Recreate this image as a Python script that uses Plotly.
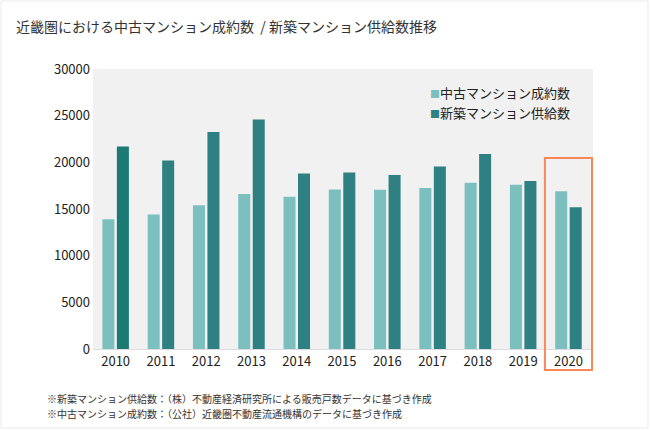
import plotly.graph_objects as go

years = ["2010", "2011", "2012", "2013", "2014", "2015", "2016", "2017", "2018", "2019", "2020"]
used_contracts = [13900, 14400, 15400, 16600, 16300, 17100, 17050, 17250, 17800, 17600, 16900]
new_supply = [21700, 20200, 23250, 24600, 18800, 18900, 18650, 19550, 20900, 18000, 15200]
y_ticks = [0, 5000, 10000, 15000, 20000, 25000, 30000]

name_used = "中古マンション成約数"
name_new = "新築マンション供給数"
title_text = "近畿圏における中古マンション成約数\u00a0\u00a0/ 新築マンション供給数推移"
notes = [
    "※新築マンション供給数：（株）不動産経済研究所による販売戸数データに基づき作成",
    "※中古マンション成約数：（公社）近畿圏不動産流通機構のデータに基づき作成",
]

c_light = "#7bc0bf"
c_dark = "#2f8083"
c_dark_first = "#1b7a73"
dark_colors = [c_dark_first] + [c_dark] * (len(years) - 1)

FONT = "Noto Sans CJK JP"

fig = go.Figure()
fig.add_trace(go.Bar(x=years, y=used_contracts, name=name_used, marker_color=c_light,
                     marker_line_width=0))
fig.add_trace(go.Bar(x=years, y=new_supply, name=name_new, marker_color=dark_colors,
                     marker_line_width=0))

fig.update_layout(
    width=650, height=430,
    margin=dict(l=93, r=57, t=69, b=81),
    paper_bgcolor="white", plot_bgcolor="#f1f1f1",
    barmode="group", bargap=0.36, bargroupgap=0.17,
    showlegend=False,
    font=dict(family=FONT, size=13, color="#222"),
    xaxis=dict(type="category", showgrid=False, showline=True, linecolor="#dcdcdc",
               linewidth=1, ticks="", tickfont=dict(size=13, color="#222")),
    yaxis=dict(range=[0, 30000], tickvals=y_ticks, tickformat="d", showgrid=False,
               zeroline=False, ticks="", ticklabelstandoff=2,
               tickfont=dict(size=13, color="#222")),
)

# title
fig.add_annotation(text=title_text, xref="paper", yref="paper", x=(14 - 93) / 500,
                   y=(349 - 26) / 280, xanchor="left", yanchor="middle", showarrow=False,
                   font=dict(family=FONT, size=14, color="#333"))

# legend (as text annotations)
legend_rows = [(name_used, c_light), (name_new, c_dark)]
for i, (nm, col) in enumerate(legend_rows):
    fig.add_annotation(
        text=f'<span style="color:{col};font-size:10px">■</span>{nm}',
        xref="paper", yref="paper", x=(572 - 93) / 500, y=(349 - 92 - 20 * i) / 280,
        xanchor="right", yanchor="middle", showarrow=False,
        font=dict(family=FONT, size=13, color="#222"))

# footnotes
for i, t in enumerate(notes):
    fig.add_annotation(text=t, xref="paper", yref="paper", x=(45 - 93) / 500,
                       y=(349 - 398 - 15 * i) / 280, xanchor="left", yanchor="middle",
                       showarrow=False, font=dict(family=FONT, size=10, color="#333"))

# highlight box around 2020
fig.add_shape(type="rect", xref="x", yref="paper", x0=len(years) - 1.52, x1=len(years) - 0.48,
              y0=(349 - 370) / 280, y1=(349 - 158) / 280,
              line=dict(color="#f8875a", width=2), fillcolor="rgba(0,0,0,0)")

# faint outer frame
fig.add_shape(type="rect", xref="paper", yref="paper", x0=(1 - 93) / 500, x1=(648 - 93) / 500,
              y0=(349 - 428) / 280, y1=(349 - 1) / 280,
              line=dict(color="#ebebeb", width=1), fillcolor="rgba(0,0,0,0)")

fig.write_html("out.html", config={"displayModeBar": False},
               post_script="document.body.style.margin='0';")
